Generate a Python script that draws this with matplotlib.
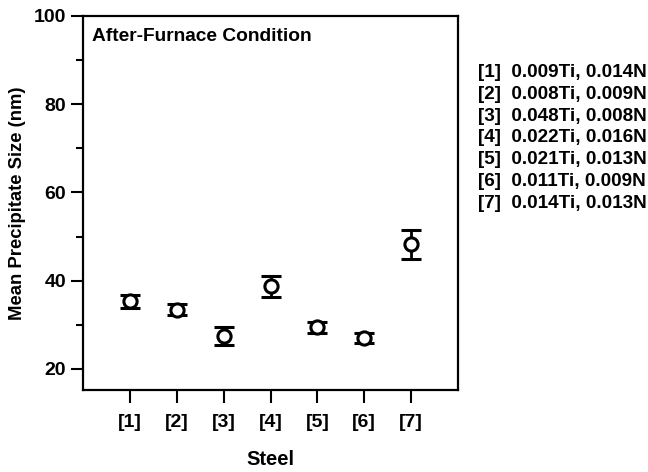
import matplotlib
matplotlib.use("Agg")
import matplotlib.pyplot as plt
from matplotlib.ticker import MultipleLocator

plt.rcParams['font.family'] = ['Liberation Sans', 'DejaVu Sans']
plt.rcParams['font.weight'] = 'bold'

steels = ["[1]", "[2]", "[3]", "[4]", "[5]", "[6]", "[7]"]
mean_size = [35.3, 33.4, 27.4, 38.7, 29.4, 27.0, 48.2]
size_err = [1.5, 1.3, 2.0, 2.3, 1.25, 1.1, 3.3]
compositions = ["0.009Ti, 0.014N", "0.008Ti, 0.009N", "0.048Ti, 0.008N",
                "0.022Ti, 0.016N", "0.021Ti, 0.013N", "0.011Ti, 0.009N",
                "0.014Ti, 0.013N"]

fig = plt.figure(figsize=(6.48, 4.72), dpi=100)
ax = fig.add_axes([83/648, 1 - 390/472, (458-83)/648, (390-16)/472])

x = list(range(1, len(steels) + 1))
ax.errorbar(x, mean_size, yerr=size_err, fmt='o', mfc='white', mec='black',
            mew=2.2, ms=9.5, ecolor='black', elinewidth=2.0, capsize=7.5,
            capthick=2.8, color='black')

ax.set_xlim(0, 8)
ax.set_ylim(15.2, 100)
ax.set_xticks(x)
ax.set_xticklabels(steels)
ax.yaxis.set_major_locator(MultipleLocator(20))
ax.yaxis.set_minor_locator(MultipleLocator(10))
ax.set_yticks([20, 40, 60, 80, 100])
ax.tick_params(axis='both', which='major', direction='out', length=9,
               width=1.5, labelsize=14, pad=3)
ax.tick_params(axis='y', which='minor', direction='out', length=5, width=1.5)
ax.tick_params(axis='x', pad=8)
for s in ax.spines.values():
    s.set_linewidth(1.6)

ax.set_xlabel("Steel", fontsize=14.5, fontweight='bold', labelpad=14)
ax.set_ylabel("Mean Precipitate Size (nm)", fontsize=13.3, fontweight='bold', labelpad=6)
ax.text(0.025, 0.968, "After-Furnace Condition", transform=ax.transAxes,
        fontsize=13.8, fontweight='bold', va='top', ha='left')

legend_text = "\n".join(f"{s}  {c}" for s, c in zip(steels, compositions))
fig.text(478/648, 1 - 64/472, legend_text, fontsize=13.6, fontweight='bold',
         va='top', ha='left', linespacing=1.37)

fig.savefig("out.png", dpi=100)
